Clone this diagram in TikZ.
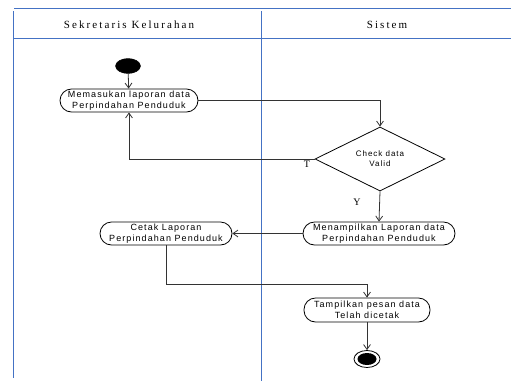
\documentclass[tikz,border=0pt]{standalone}
\usepackage{fontspec}
\setmainfont{Liberation Serif}
\newfontfamily\headfont[LetterSpace=19]{Liberation Serif}
\newfontfamily\actfont[LetterSpace=12]{Liberation Sans}
\usetikzlibrary{shapes.geometric,arrows.meta}

\begin{document}
\begin{tikzpicture}[x=1pt, y=-1pt,
    lane/.style={draw=lanecol, line width=0.9pt},
    activity/.style={draw, thick, rounded corners=11.5pt, minimum height=23pt,
        inner sep=1pt, align=center, font=\actfont\fontsize{9}{11}\selectfont},
    decision/.style={draw, thick, diamond, minimum width=130pt, minimum height=42pt,
        inner sep=0pt, align=center, font=\actfont\fontsize{8}{10}\selectfont},
    flow/.style={draw=black!80, thick, -{Straight Barb[angle=70:6pt]}},
    guard/.style={font=\fontsize{10}{12}\selectfont},
    header/.style={font=\headfont\fontsize{11}{13}\selectfont}]
    \definecolor{lanecol}{RGB}{68,114,196}
    \useasboundingbox (0,0) rectangle (511,381);

    % Swimlanes
    \draw[lane] (14,8) -- (511,8);
    \draw[lane] (14,38) -- (511,38);
    \draw[lane] (13.5,11) -- (13.5,378);
    \draw[lane] (261,11) -- (261,381);
    \node[header] (laneA) at (129,25) {Sekretaris Kelurahan};
    \node[header] (laneB) at (387,25) {Sistem};

    % Activities
    \node[draw, ellipse, fill=black, minimum width=25pt, minimum height=15pt, inner sep=0pt] (start) at (128,66) {};
    \node[activity, minimum width=138pt] (masuk) at (129,100.5) {Memasukan laporan data\\Perpindahan Penduduk};
    \node[decision] (check) at (380,159) {Check data\\Valid};
    \node[activity, minimum width=152pt] (tampil) at (379,233.5) {Menampilkan Laporan data\\Perpindahan Penduduk};
    \node[activity, minimum width=132pt] (cetak) at (166,233.5) {Cetak Laporan\\Perpindahan Penduduk};
    \node[activity, minimum width=126pt, minimum height=24pt] (pesan) at (367,310) {Tampilkan pesan data\\Telah dicetak};
    \node[draw, thick, ellipse, minimum width=26pt, minimum height=17pt, inner sep=0pt] (end) at (367,359) {};
    \node[ellipse, fill=black, minimum width=19pt, minimum height=12pt, inner sep=0pt] (endfill) at (end) {};

    % Flows
    \draw[flow] (start) -- (masuk);
    \draw[flow] (masuk.east) -| (check.north);
    \draw[flow] (check.west) -| (masuk.south);
    \node[guard] (labelT) at (307,164) {T};
    \draw[flow] (check.south) -- (tampil.north);
    \node[guard] (labelY) at (357,202) {Y};
    \draw[flow] (tampil.west) -- (cetak.east);
    \draw[flow] (cetak.south) -- ++(0,38.5) -| (pesan.north);
    \draw[flow] (pesan.south) -- (end.north);
\end{tikzpicture}
\end{document}
